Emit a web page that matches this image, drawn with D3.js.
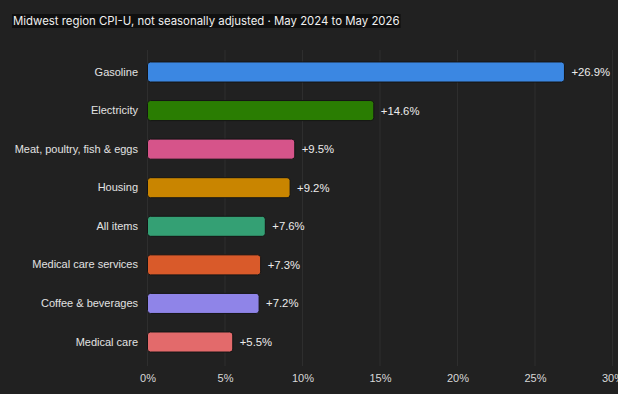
<!DOCTYPE html>
<html><head><meta charset="utf-8">
<script src="https://cdn.jsdelivr.net/npm/d3@7"></script>
<style>
html,body{margin:0;padding:0;background:#212121;}
svg{display:block;}
</style></head>
<body><svg id="c" width="618" height="394"></svg>
<script>
const categories = ["Gasoline","Electricity","Meat, poultry, fish & eggs","Housing","All items","Medical care services","Coffee & beverages","Medical care"];
const values = [26.9, 14.6, 9.5, 9.2, 7.6, 7.3, 7.2, 5.5];
const colors = ["#3b87e2","#2a7d02","#d6548a","#c98500","#34a074","#d95a2a","#8f84e8","#e36a6b"];
const tickValues = [0,5,10,15,20,25,30];
const titleText = "Midwest region CPI-U, not seasonally adjusted · May 2024 to May 2026";

const svg = d3.select("#c");
svg.append("rect").attr("width",618).attr("height",394).attr("fill","#212121");

const x = d3.scaleLinear().domain([0,30]).range([147.5,612.5]);
const y = d3.scaleBand().domain(categories).range([52.7,361.3]).paddingInner(0.48).paddingOuter(0.24);

// grid
svg.append("g").selectAll("line").data(tickValues).join("line")
  .attr("x1",d=>x(d)).attr("x2",d=>x(d)).attr("y1",50).attr("y2",366)
  .attr("stroke","#2e2e2e").attr("stroke-width",1);

// x axis
const xAxis = d3.axisBottom(x).tickValues(tickValues).tickFormat(d=>d+"%").tickSize(0).tickPadding(0);
const gx = svg.append("g").attr("transform","translate(0,382)").call(xAxis);
gx.select(".domain").remove();
gx.attr("color","#d8d8d8");
gx.selectAll("text").style("fill","#d8d8d8").attr("font-family","Liberation Sans, Arial, sans-serif").attr("font-size","11px").attr("dy","0");

// y axis labels
const yAxis = d3.axisLeft(y).tickSize(0).tickPadding(0);
const gy = svg.append("g").attr("transform","translate(138,0)").call(yAxis);
gy.select(".domain").remove();
gy.attr("color","#e2e2e2");
gy.selectAll("text").style("fill","#e2e2e2").attr("font-family","Liberation Sans, Arial, sans-serif").attr("font-size","11px");

// bars
svg.append("g").selectAll("rect").data(categories).join("rect")
  .attr("x",x(0)).attr("y",d=>y(d))
  .attr("width",(d,i)=>x(values[i])-x(0)).attr("height",y.bandwidth())
  .attr("rx",3).attr("ry",3)
  .attr("fill",(d,i)=>colors[i]).attr("stroke","#151515").attr("stroke-width",1);

// value labels
svg.append("g").selectAll("text").data(categories).join("text")
  .attr("x",(d,i)=>x(values[i])+7).attr("y",d=>y(d)+y.bandwidth()/2)
  .attr("dy","0.35em")
  .attr("fill","#ececec").attr("font-family","Liberation Sans, Arial, sans-serif").attr("font-size","11.3px")
  .text((d,i)=>"+"+values[i].toFixed(1)+"%");

// title
const tg = svg.append("g");
const tb = tg.append("rect").attr("fill","#0f0f0f");
const tt = tg.append("text").attr("x",13).attr("y",25)
  .attr("fill","#f0f0f0").attr("font-family","Inter, sans-serif").attr("font-size","11.4px")
  .text(titleText);
const bb = tt.node().getBBox();
tb.attr("x",bb.x-1).attr("y",bb.y).attr("width",bb.width+2).attr("height",bb.height);
</script></body></html>
